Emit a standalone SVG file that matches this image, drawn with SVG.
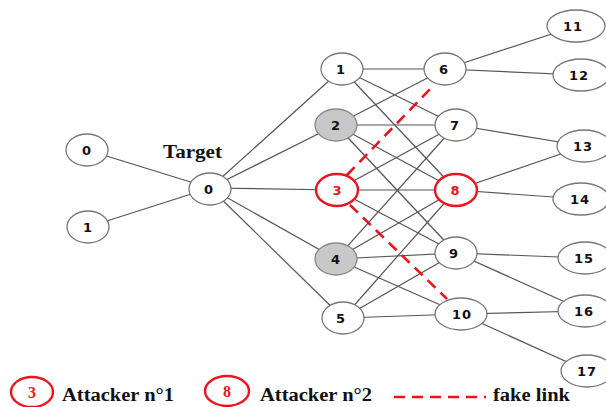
<svg xmlns="http://www.w3.org/2000/svg" width="606" height="407" viewBox="0 0 606 407">
<style>
.e{stroke:#555;stroke-width:1.2;fill:none}
.f{stroke:#e8141e;stroke-width:2.6;stroke-dasharray:11 7;fill:none}
.n{fill:#fff;stroke:#777;stroke-width:1.3}
.g{fill:#c8c8c8;stroke:#888;stroke-width:1.3}
.r{fill:#fff;stroke:#e8141e;stroke-width:2.4}
.t{font-family:"DejaVu Sans",sans-serif;font-weight:bold;font-size:13px;letter-spacing:1px;fill:#111;text-anchor:middle}
.tr{font-family:"DejaVu Sans",sans-serif;font-weight:bold;font-size:13px;fill:#e8141e;text-anchor:middle}
.s{font-family:"Liberation Serif",serif;font-weight:bold;font-size:18px;fill:#111}
.sr{font-family:"Liberation Serif",serif;font-weight:bold;font-size:16px;fill:#e8141e;text-anchor:middle}
</style>
<rect width="606" height="407" fill="#fff"/>
<g id="connectors">
<line class="e" x1="87" y1="150" x2="210" y2="188"/>
<line class="e" x1="88" y1="227" x2="210" y2="188"/>
<line class="e" x1="210" y1="188" x2="342" y2="69"/>
<line class="e" x1="210" y1="188" x2="336" y2="125"/>
<line class="e" x1="210" y1="188" x2="337" y2="190"/>
<line class="e" x1="210" y1="188" x2="336" y2="259"/>
<line class="e" x1="210" y1="188" x2="343" y2="318"/>
<line class="e" x1="342" y1="69" x2="445" y2="69"/>
<line class="e" x1="342" y1="69" x2="456" y2="125"/>
<line class="e" x1="342" y1="69" x2="456" y2="190"/>
<line class="e" x1="336" y1="125" x2="445" y2="69"/>
<line class="e" x1="336" y1="125" x2="456" y2="125"/>
<line class="e" x1="336" y1="125" x2="456" y2="190"/>
<line class="e" x1="336" y1="125" x2="456" y2="253"/>
<line class="e" x1="337" y1="190" x2="456" y2="125"/>
<line class="e" x1="337" y1="190" x2="456" y2="190"/>
<line class="e" x1="337" y1="190" x2="456" y2="253"/>
<line class="e" x1="336" y1="259" x2="456" y2="125"/>
<line class="e" x1="336" y1="259" x2="456" y2="190"/>
<line class="e" x1="336" y1="259" x2="456" y2="253"/>
<line class="e" x1="336" y1="259" x2="461" y2="314"/>
<line class="e" x1="343" y1="318" x2="456" y2="190"/>
<line class="e" x1="343" y1="318" x2="456" y2="253"/>
<line class="e" x1="343" y1="318" x2="461" y2="314"/>
<line class="e" x1="445" y1="69" x2="576" y2="26"/>
<line class="e" x1="445" y1="69" x2="581" y2="75"/>
<line class="e" x1="456" y1="125" x2="584" y2="146"/>
<line class="e" x1="456" y1="190" x2="584" y2="146"/>
<line class="e" x1="456" y1="190" x2="581" y2="199"/>
<line class="e" x1="456" y1="253" x2="585" y2="258"/>
<line class="e" x1="456" y1="253" x2="585" y2="311"/>
<line class="e" x1="461" y1="314" x2="585" y2="311"/>
<line class="e" x1="461" y1="314" x2="587" y2="371"/>
<line class="f" x1="347" y1="175" x2="434" y2="85"/>
<line class="f" x1="350" y1="205" x2="447" y2="299"/>
</g>
<g id="nL0"><ellipse class="n" cx="87" cy="150" rx="21" ry="16"/><text class="t" x="87" y="155">0</text></g>
<g id="nL1"><ellipse class="n" cx="88" cy="227" rx="21" ry="16"/><text class="t" x="88" y="232">1</text></g>
<g id="target"><ellipse class="n" cx="210" cy="189" rx="21" ry="16"/><text class="t" x="209" y="194">0</text><text class="s" x="163" y="158" textLength="59" lengthAdjust="spacingAndGlyphs">Target</text></g>
<g id="n1"><ellipse class="n" cx="342" cy="69" rx="21" ry="16"/><text class="t" x="341" y="74">1</text></g>
<g id="n2"><ellipse class="g" cx="336" cy="125" rx="21" ry="16"/><text class="t" x="336" y="130">2</text></g>
<g id="n3"><ellipse class="r" cx="337" cy="190" rx="21" ry="16"/><text class="tr" x="337" y="195">3</text></g>
<g id="n4"><ellipse class="g" cx="336" cy="259" rx="21" ry="16"/><text class="t" x="336" y="264">4</text></g>
<g id="n5"><ellipse class="n" cx="343" cy="318" rx="21" ry="16"/><text class="t" x="341" y="323">5</text></g>
<g id="n6"><ellipse class="n" cx="445" cy="69" rx="21" ry="16"/><text class="t" x="444" y="74">6</text></g>
<g id="n7"><ellipse class="n" cx="456" cy="125" rx="21" ry="16"/><text class="t" x="455" y="130">7</text></g>
<g id="n8"><ellipse class="r" cx="456" cy="190" rx="21" ry="16"/><text class="tr" x="455" y="195">8</text></g>
<g id="n9"><ellipse class="n" cx="456" cy="253" rx="21" ry="16"/><text class="t" x="454" y="258">9</text></g>
<g id="n10"><ellipse class="n" cx="461" cy="314" rx="26" ry="16"/><text class="t" x="462" y="319">10</text></g>
<g id="n11"><ellipse class="n" cx="576" cy="26" rx="29" ry="16"/><text class="t" x="573" y="31">11</text></g>
<g id="n12"><ellipse class="n" cx="581" cy="75" rx="28" ry="16"/><text class="t" x="579" y="80">12</text></g>
<g id="n13"><ellipse class="n" cx="584" cy="146" rx="27" ry="16"/><text class="t" x="583" y="151">13</text></g>
<g id="n14"><ellipse class="n" cx="581" cy="199" rx="28" ry="16"/><text class="t" x="580" y="204">14</text></g>
<g id="n15"><ellipse class="n" cx="585" cy="258" rx="27" ry="16"/><text class="t" x="584" y="263">15</text></g>
<g id="n16"><ellipse class="n" cx="585" cy="311" rx="27" ry="16"/><text class="t" x="584" y="316">16</text></g>
<g id="n17"><ellipse class="n" cx="587" cy="371" rx="26" ry="16"/><text class="t" x="587" y="376">17</text></g>
<g id="legend">
<ellipse class="r" cx="32" cy="392" rx="21" ry="15"/><text class="sr" x="32" y="398">3</text>
<text class="s" x="62" y="401" textLength="112" lengthAdjust="spacingAndGlyphs">Attacker n°1</text>
<ellipse class="r" cx="227" cy="391" rx="22" ry="15"/><text class="sr" x="227" y="397">8</text>
<text class="s" x="260" y="401" textLength="112" lengthAdjust="spacingAndGlyphs">Attacker n°2</text>
<line class="f" x1="394" y1="397" x2="486" y2="397" stroke-dasharray="14 9"/>
<text class="s" x="493" y="401" textLength="77" lengthAdjust="spacingAndGlyphs">fake link</text>
</g>
</svg>
